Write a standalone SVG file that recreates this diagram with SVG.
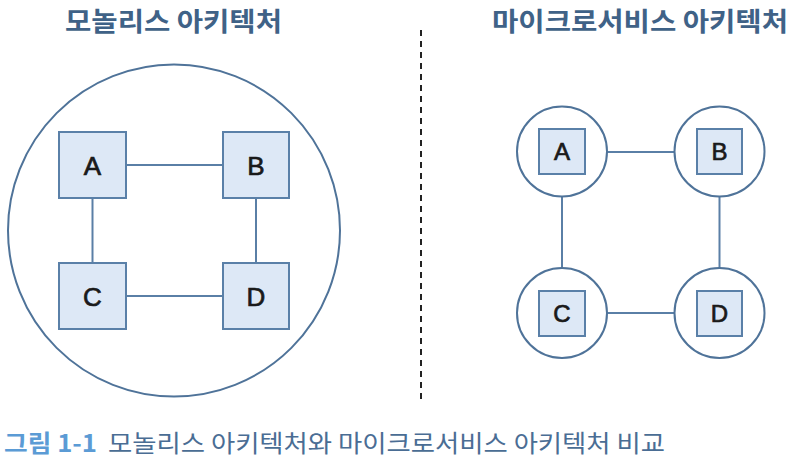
<svg xmlns="http://www.w3.org/2000/svg" width="800" height="461" viewBox="0 0 800 461">
<style>
.title{font-family:"Noto Sans CJK KR","Noto Sans",sans-serif;font-weight:bold;font-size:26px;fill:#3f6287;text-anchor:middle}
.box{fill:#dde8f6;stroke:#5a80a8;stroke-width:2}
.ring{fill:#ffffff;stroke:#4f7399;stroke-width:2}
.lbl{font-family:"Liberation Sans",Arial,sans-serif;font-size:26px;fill:#1a1a1a;stroke:#1a1a1a;stroke-width:0.7;text-anchor:middle}
.lbl2{font-family:"Liberation Sans",Arial,sans-serif;font-size:24px;fill:#1a1a1a;stroke:#1a1a1a;stroke-width:0.7;text-anchor:middle}
.conn line{stroke:#5a7fa6;stroke-width:2}
</style>
<rect width="800" height="461" fill="#ffffff"/>
<text class="title" x="173.5" y="31" textLength="217" lengthAdjust="spacingAndGlyphs">모놀리스 아키텍처</text>
<text class="title" x="640" y="31" textLength="296" lengthAdjust="spacingAndGlyphs">마이크로서비스 아키텍처</text>
<line x1="421" y1="30" x2="421" y2="403" stroke="#222" stroke-width="2" stroke-dasharray="6 5"/>
<g id="monolith"><circle class="ring" cx="174" cy="230.5" r="166"/></g>
<g class="conn" id="connectors">
<line x1="126" y1="165" x2="223" y2="165"/>
<line x1="92.5" y1="198" x2="92.5" y2="263"/>
<line x1="256" y1="198" x2="256" y2="263"/>
<line x1="126" y1="296" x2="223" y2="296"/>
<line x1="607" y1="152" x2="675" y2="152"/>
<line x1="562" y1="196" x2="562" y2="268"/>
<line x1="719.5" y1="196" x2="719.5" y2="268"/>
<line x1="607" y1="313" x2="675" y2="313"/>
</g>
<g id="mA"><rect class="box" x="59" y="132" width="67" height="66"/><text class="lbl" x="92.5" y="174.5">A</text></g>
<g id="mB"><rect class="box" x="223" y="132" width="66" height="66"/><text class="lbl" x="256" y="174.5">B</text></g>
<g id="mC"><rect class="box" x="59" y="263" width="67" height="66"/><text class="lbl" x="92.5" y="305.5">C</text></g>
<g id="mD"><rect class="box" x="223" y="263" width="66" height="66"/><text class="lbl" x="256" y="305.5">D</text></g>
<g id="sA"><circle class="ring" cx="562" cy="151.5" r="45"/><rect class="box" x="539" y="129" width="46" height="45"/><text class="lbl2" x="562" y="160">A</text></g>
<g id="sB"><circle class="ring" cx="719.5" cy="151.5" r="45"/><rect class="box" x="697" y="129" width="45" height="45"/><text class="lbl2" x="719.5" y="160">B</text></g>
<g id="sC"><circle class="ring" cx="562" cy="313" r="45"/><rect class="box" x="539" y="291" width="46" height="45"/><text class="lbl2" x="562" y="322">C</text></g>
<g id="sD"><circle class="ring" cx="719.5" cy="313" r="45"/><rect class="box" x="697" y="291" width="45" height="45"/><text class="lbl2" x="719.5" y="322">D</text></g>
<text x="4" y="452" font-family="Noto Sans CJK KR,Noto Sans,sans-serif" font-weight="bold" font-size="24" fill="#5b9bd5" textLength="93" lengthAdjust="spacingAndGlyphs">그림 1-1</text>
<text x="108" y="452" font-family="Noto Sans CJK KR,Noto Sans,sans-serif" font-size="24" fill="#4a6d94" textLength="557" lengthAdjust="spacingAndGlyphs">모놀리스 아키텍처와 마이크로서비스 아키텍처 비교</text>
</svg>
